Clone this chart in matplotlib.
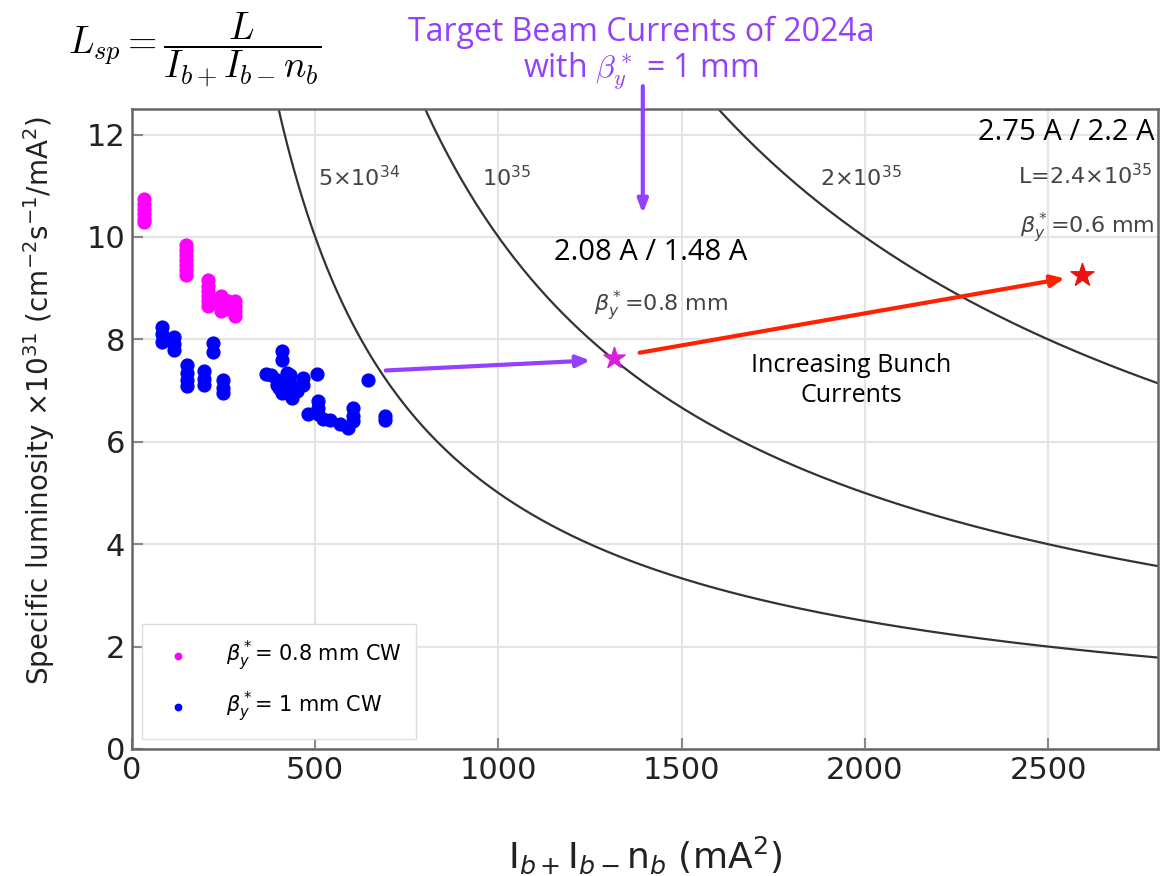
import numpy as np
import matplotlib.pyplot as plt

# beta_y* = 0.8 mm CW runs
pink_x = [33, 33, 33, 33, 33, 33, 148, 148, 148, 148, 148, 148, 148, 208, 208, 208, 208, 208, 208,
          244, 244, 244, 244, 262, 262, 280, 280, 280, 280]
pink_y = [10.75, 10.65, 10.55, 10.45, 10.35, 10.3, 9.85, 9.75, 9.65, 9.55, 9.45, 9.35, 9.25,
          9.15, 9.05, 8.95, 8.85, 8.75, 8.65, 8.85, 8.75, 8.65, 8.55, 8.75, 8.6, 8.75, 8.65, 8.55, 8.45]

# beta_y* = 1 mm CW runs
blue_x = [82, 82, 82, 115, 115, 115, 151, 151, 151, 151, 197, 197, 197, 222, 222, 247, 247, 247,
          367, 380, 395, 395, 400, 408, 408, 410, 422, 422, 422, 422, 430, 430, 438, 450, 466, 466,
          504, 479, 507, 507, 507, 520, 540, 567, 589, 603, 603, 603, 644, 690, 690]
blue_y = [8.25, 8.1, 7.95, 8.05, 7.9, 7.8, 7.5, 7.35, 7.2, 7.08, 7.38, 7.22, 7.1, 7.92, 7.75, 7.2, 7.05, 6.95,
          7.33, 7.3, 7.2, 7.1, 7.05, 7.78, 7.6, 6.95, 7.35, 7.2, 7.05, 6.95, 7.15, 7.3, 6.86, 7.0, 7.25, 7.1,
          7.33, 6.55, 6.8, 6.65, 6.55, 6.45, 6.42, 6.35, 6.27, 6.65, 6.5, 6.4, 7.2, 6.5, 6.42]

# constant luminosity curves (units: 1e31 * mA^2)
lumi_levels = [5000, 10000, 20000]
lumi_labels = ['5×10$^{34}$', '10$^{35}$', '2×10$^{35}$']
lumi_label_x = [507, 956, 1877]

target_x, target_y = 1315, 7.63
future_x, future_y = 2594, 9.25

fig = plt.figure(figsize=(11.61, 8.76), dpi=100)
ax = fig.add_axes([0.1137, 0.145, 0.8837, 0.7306])

ax.grid(True, color='#e4e4e4', linewidth=1.5)
ax.set_axisbelow(True)

xx = np.linspace(100, 2800, 600)
for lv, lab, lx in zip(lumi_levels, lumi_labels, lumi_label_x):
    ax.plot(xx, lv / xx, color='#333333', linewidth=1.6)
    ax.text(lx, 11.16, lab, fontsize=16, color='#444444', va='center')

ax.scatter(pink_x, pink_y, s=85, color='#ff00ff', label=r'$\beta_y^*$= 0.8 mm CW', zorder=3)
ax.scatter(blue_x, blue_y, s=85, color='#0000ff', label=r'$\beta_y^*$= 1 mm CW', zorder=3)

ax.scatter([target_x], [target_y], marker='*', s=260, color='#d820d8', zorder=4)
ax.scatter([future_x], [future_y], marker='*', s=300, color='#ee1111', zorder=4)

purple = '#9440ff'
ax.annotate('', xy=(1258, 7.59), xytext=(685, 7.39),
            arrowprops=dict(arrowstyle='-|>,head_length=0.8,head_width=0.35', color=purple, lw=3))
ax.annotate('', xy=(2553, 9.2), xytext=(1378, 7.73),
            arrowprops=dict(arrowstyle='-|>,head_length=0.8,head_width=0.35', color='#ff2200', lw=3))
ax.annotate('', xy=(1394, 10.4), xytext=(1394, 13.0), annotation_clip=False,
            arrowprops=dict(arrowstyle='-|>,head_length=0.8,head_width=0.3', color=purple, lw=3))

tf = 'Open Sans'
ax.text(1416, 9.69, '2.08 A / 1.48 A', fontsize=21, family=tf, ha='center', va='center')
ax.text(1444, 8.65, r'$\beta_y^*$=0.8 mm', fontsize=16, color='#444444', ha='center', va='center')
ax.text(2790, 12.04, '2.75 A / 2.2 A', fontsize=21, family=tf, ha='right', va='center')
ax.text(2784, 11.19, 'L=2.4×10$^{35}$', fontsize=16, color='#444444', ha='right', va='center')
ax.text(2790, 10.18, r'$\beta_y^*$=0.6 mm', fontsize=16, color='#444444', ha='right', va='center')
ax.text(1962, 7.19, 'Increasing Bunch\nCurrents', fontsize=18, family=tf, ha='center', va='center',
        linespacing=1.25)

ax.set_xlim(0, 2800)
ax.set_ylim(0, 12.5)
ax.set_xticks([0, 500, 1000, 1500, 2000, 2500])
ax.set_yticks([0, 2, 4, 6, 8, 10, 12])
ax.tick_params(direction='in', length=8, width=1.5, color='#888888', labelsize=22, pad=5,
               labelcolor='#222222')
for sp in ax.spines.values():
    sp.set_color('#666666')
    sp.set_linewidth(1.8)

leg = ax.legend(loc='lower left', bbox_to_anchor=(0.0, 0.0), fontsize=15, markerscale=0.5,
                handletextpad=1.3, borderpad=0.7, labelspacing=0.8, fancybox=False,
                edgecolor='#dddddd', framealpha=1)

fig.text(0.5557, 0.024, 'I$_{b+}$I$_{b-}$n$_b$ (mA$^2$)', fontsize=26, ha='center', va='center',
         color='#222222')
fig.text(0.034, 0.543, 'Specific luminosity ×10$^{31}$ (cm$^{-2}$s$^{-1}$/mA$^2$)', fontsize=20,
         rotation=90, ha='center', va='center', color='#222222')

fig.text(0.168, 0.943, r'$L_{sp} = \dfrac{L}{I_{b+}I_{b-}n_b}$', fontsize=27, ha='center', va='center',
         math_fontfamily='cm')
fig.text(0.552, 0.939, 'Target Beam Currents of 2024a\n' + r'with $\beta_y^*$ = 1 mm', fontsize=23,
         family=tf, color=purple, ha='center', va='center', linespacing=1.05, math_fontfamily='cm')

fig.savefig('out.png', dpi=100)
